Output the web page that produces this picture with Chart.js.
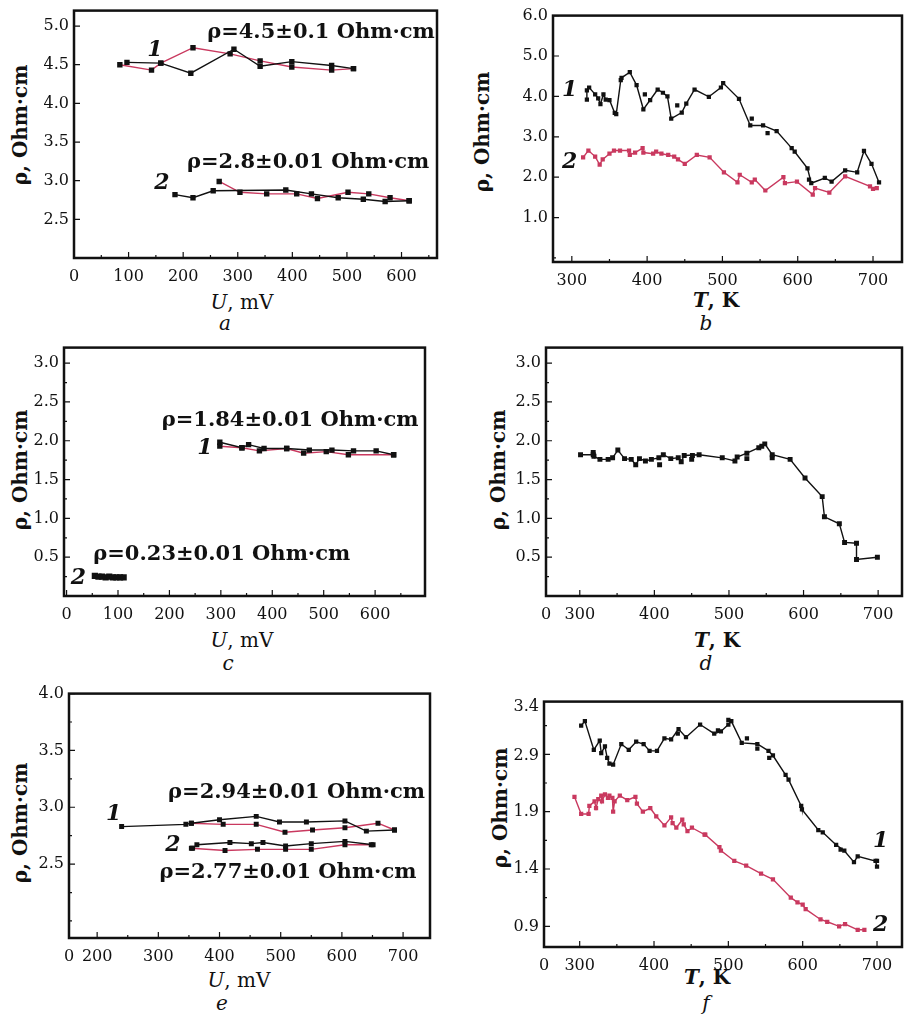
<!DOCTYPE html>
<html>
<head>
<meta charset="utf-8">
<script src="https://cdn.jsdelivr.net/npm/chart.js@4.4.1/dist/chart.umd.min.js"></script>
<style>
  body { margin: 0; width: 904px; height: 1021px; position: relative; overflow: hidden; background: #fff; color: #111; font-family: "DejaVu Serif", serif; }
  canvas { position: absolute; }
  .t { position: absolute; white-space: nowrap; transform: translate(-50%, -50%); font-size: 20px; }
  .yt { transform: translate(-50%, -50%) rotate(-90deg); font-weight: bold; font-size: 20px; }
  .xt-t { font-weight: bold; }
  .lt { font-style: italic; }
</style>
</head>
<body>
<div class="t yt" style="left:20px;top:125px">ρ, Ohm·cm</div>
<div class="t yt" style="left:482px;top:132px">ρ, Ohm·cm</div>
<div class="t yt" style="left:20px;top:470px">ρ, Ohm·cm</div>
<div class="t yt" style="left:498px;top:470px">ρ, Ohm·cm</div>
<div class="t yt" style="left:20px;top:823px">ρ, Ohm·cm</div>
<div class="t yt" style="left:500px;top:808px">ρ, Ohm·cm</div>

<div class="t" style="left:242px;top:302px"><i>U</i>, mV</div>
<div class="t xt-t" style="left:716px;top:300px"><i>T</i>, K</div>
<div class="t" style="left:242px;top:640px"><i>U</i>, mV</div>
<div class="t xt-t" style="left:717px;top:640px"><i>T</i>, K</div>
<div class="t" style="left:239px;top:980px"><i>U</i>, mV</div>
<div class="t xt-t" style="left:707px;top:977px"><i>T</i>, K</div>

<div class="t lt" style="left:225px;top:323px">a</div>
<div class="t lt" style="left:706px;top:323px">b</div>
<div class="t lt" style="left:228px;top:663px">c</div>
<div class="t lt" style="left:706px;top:663px">d</div>
<div class="t lt" style="left:222px;top:1003px">e</div>
<div class="t lt" style="left:706px;top:1003px">f</div>

<script>
const RED = '#c9395f'
const BLACK = '#111'

// panel a: rho vs U
const aXTicks = [0, 100, 200, 300, 400, 500, 600]
const aXLabels = ['0', '100', '200', '300', '400', '500', '600']
const aYTicks = [2.5, 3.0, 3.5, 4.0, 4.5, 5.0]
const aYLabels = ['2.5', '3.0', '3.5', '4.0', '4.5', '5.0']
const aBlack1 = [[97,4.53],[159,4.52],[214,4.39],[293,4.70],[341,4.48],[399,4.54],[472,4.49],[512,4.45]]
const aRed1 = [[84,4.50],[142,4.43],[159,4.52],[218,4.72],[286,4.64],[341,4.55],[399,4.47],[472,4.43],[512,4.45]]
const aBlack2 = [[185,2.82],[218,2.78],[255,2.87],[388,2.88],[435,2.83],[484,2.78],[530,2.76],[570,2.73],[614,2.74]]
const aRed2 = [[266,2.99],[304,2.85],[353,2.83],[408,2.83],[446,2.77],[502,2.85],[540,2.83],[579,2.78],[614,2.74]]

// panel b: rho vs T
const bXTicks = [300, 400, 500, 600, 700]
const bXLabels = ['300', '400', '500', '600', '700']
const bYTicks = [1, 2, 3, 4, 5, 6]
const bYLabels = ['1.0', '2.0', '3.0', '4.0', '5.0', '6.0']
const bBlack1 = [[320,3.92],[320,4.15],[323,4.22],[331,4.05],[335,3.95],[338,3.81],[342,4.05],[345,3.92],[350,3.91],[357,3.59],[359,3.56],[365,4.40],[366,4.46],[377,4.60],[386,4.28],[395,3.68],[404,3.91],[414,4.17],[421,4.09],[427,4.00],[432,3.45],[446,3.60],[452,3.82],[463,4.17],[482,3.99],[498,4.22],[501,4.33],[522,3.94],[537,3.28],[554,3.28],[572,3.14],[592,2.72],[596,2.63],[613,2.22],[618,1.85],[636,1.98],[645,1.89],[663,2.17],[679,2.12],[688,2.65],[698,2.33],[708,1.87]]
const bBlack1Extra = [[397,4.05],[440,3.78],[539,3.45],[560,3.09],[615,1.94]]
const bRed2 = [[315,2.49],[322,2.66],[331,2.51],[337,2.31],[341,2.44],[350,2.58],[356,2.66],[364,2.66],[376,2.66],[377,2.55],[384,2.61],[394,2.72],[395,2.61],[408,2.58],[412,2.63],[419,2.58],[428,2.55],[436,2.51],[441,2.44],[450,2.33],[466,2.55],[483,2.49],[502,2.12],[520,1.87],[523,2.06],[539,1.87],[543,1.94],[557,1.67],[581,2.00],[583,1.85],[599,1.89],[620,1.57],[623,1.73],[642,1.62],[663,2.02],[696,1.77],[700,1.71],[705,1.73]]

// panel c: rho vs U
const cXTicks = [0, 100, 200, 300, 400, 500, 600]
const cXLabels = ['0', '100', '200', '300', '400', '500', '600']
const cYTicks = [0.5, 1.0, 1.5, 2.0, 2.5, 3.0]
const cYLabels = ['0.5', '1.0', '1.5', '2.0', '2.5', '3.0']
const cBlack1 = [[298,1.98],[341,1.91],[354,1.95],[384,1.90],[428,1.90],[472,1.88],[516,1.88],[558,1.87],[602,1.87],[636,1.82]]
const cRed1 = [[298,1.93],[341,1.91],[375,1.87],[428,1.90],[461,1.84],[505,1.86],[548,1.82],[636,1.82]]
const cBlack2 = [[55,0.26],[62,0.25],[69,0.25],[76,0.24],[83,0.25],[90,0.24],[97,0.24],[104,0.24],[111,0.24]]

// panel d: rho vs T
const dXTicks = [254.7, 300, 400, 500, 600, 700]
const dXLabels = ['0', '300', '400', '500', '600', '700']
const dYTicks = [0.5, 1.0, 1.5, 2.0, 2.5, 3.0]
const dYLabels = ['0.5', '1.0', '1.5', '2.0', '2.5', '3.0']
const dLine = [[301,1.82],[318,1.82],[319,1.80],[327,1.76],[338,1.76],[344,1.78],[351,1.88],[360,1.77],[369,1.76],[375,1.69],[380,1.77],[388,1.74],[396,1.76],[406,1.78],[412,1.82],[422,1.77],[432,1.78],[436,1.73],[440,1.81],[460,1.82],[491,1.78],[508,1.74],[511,1.79],[524,1.84],[540,1.91],[544,1.93],[548,1.96],[558,1.82],[582,1.76],[602,1.52],[625,1.28],[628,1.02],[648,0.93],[655,0.69],[671,0.68],[671,0.47],[699,0.50]]
const dExtra = [[318,1.85],[407,1.69],[450,1.76],[451,1.81],[524,1.77],[558,1.78]]

// panel e: rho vs U
const eXTicks = [154, 200, 300, 400, 500, 600, 700]
const eXLabels = ['0', '200', '300', '400', '500', '600', '700']
const eYTicks = [2.5, 3.0, 3.5, 4.0]
const eYLabels = ['2.5', '3.0', '3.5', '4.0']
const eBlack1 = [[240,2.83],[345,2.85],[354,2.86],[400,2.89],[460,2.92],[498,2.87],[542,2.87],[605,2.88],[640,2.79],[686,2.80]]
const eRed1 = [[354,2.86],[406,2.85],[460,2.85],[507,2.78],[552,2.80],[605,2.82],[659,2.86],[686,2.80]]
const eBlack2 = [[356,2.64],[363,2.67],[417,2.69],[452,2.68],[471,2.69],[508,2.66],[550,2.68],[605,2.70],[651,2.67]]
const eRed2 = [[354,2.64],[409,2.62],[462,2.63],[508,2.63],[550,2.63],[605,2.67],[648,2.67]]

// panel f: rho vs T (tick labels as printed)
const fXTicks = [252, 300, 400, 500, 600, 700]
const fXLabels = ['0', '300', '400', '500', '600', '700']
const fYTicks = [0.9, 1.4, 1.9, 2.39, 2.81]
const fYLabels = ['0.9', '1.4', '1.9', '2.9', '3.4']
const fBlack1 = [[302,2.65],[307,2.69],[319,2.44],[327,2.52],[329,2.41],[334,2.47],[337,2.37],[340,2.32],[345,2.31],[356,2.49],[366,2.44],[376,2.51],[386,2.49],[394,2.43],[404,2.43],[414,2.54],[423,2.53],[433,2.62],[443,2.55],[462,2.66],[481,2.58],[490,2.60],[500,2.66],[504,2.69],[518,2.50],[539,2.49],[554,2.43],[560,2.39],[577,2.22],[581,2.18],[598,1.95],[599,1.92],[621,1.74],[627,1.72],[645,1.61],[656,1.56],[669,1.46],[674,1.51],[698,1.47],[700,1.42]]
const fBlack1Extra = [[432,2.58],[486,2.61],[500,2.70],[525,2.54],[539,2.45],[555,2.37],[651,1.57],[700,1.47]]
const fRed2 = [[293,2.03],[302,1.88],[312,1.88],[313,1.95],[320,1.99],[322,1.93],[325,2.01],[329,2.04],[330,1.99],[334,2.05],[338,2.02],[340,2.04],[344,2.02],[345,1.90],[347,1.99],[354,2.04],[364,2.00],[375,2.03],[377,1.97],[385,1.90],[395,1.93],[403,1.86],[414,1.78],[423,1.85],[425,1.80],[430,1.76],[438,1.83],[440,1.79],[445,1.73],[451,1.76],[468,1.70],[469,1.70],[488,1.59],[490,1.56],[508,1.47],[524,1.43],[544,1.36],[560,1.31],[584,1.15],[593,1.11],[600,1.09],[604,1.05],[624,0.96],[633,0.94],[649,0.90],[657,0.92],[674,0.87],[683,0.87]]

const NOTE_FONT = 'bold 21px "DejaVu Serif"'
const NUM_FONT = 'italic bold 22px "DejaVu Serif"'

const pts = arr => arr.map(([x, y]) => ({ x, y }))

function line(data, color, ptColor, r) {
  return {
    data: pts(data), showLine: true, borderColor: color, borderWidth: 1.4,
    pointStyle: 'rect', pointRadius: r, pointHoverRadius: r,
    pointBackgroundColor: ptColor, pointBorderWidth: 0
  }
}

function dots(data, ptColor, r) {
  return {
    data: pts(data), showLine: false, borderColor: ptColor,
    pointStyle: 'rect', pointRadius: r, pointHoverRadius: r,
    pointBackgroundColor: ptColor, pointBorderWidth: 0
  }
}

const framePlugin = {
  id: 'frame',
  afterDatasetsDraw(chart, args, opts) {
    const { ctx, chartArea: { left, top, right, bottom }, scales: { x, y } } = chart
    ctx.save()
    ctx.strokeStyle = BLACK
    ctx.lineWidth = 1.2
    const marks = (scale, base, step, draw) => {
      const k0 = Math.ceil((scale.min - base) / step)
      const k1 = Math.floor((scale.max - base) / step)
      for (let k = k0; k <= k1; k++) {
        const v = base + k * step
        const major = scale.ticks.some(t => Math.abs(t.value - v) < step / 4)
        draw(scale.getPixelForValue(v), major ? 6 : 3)
      }
    }
    ctx.beginPath()
    marks(x, opts.xBase, opts.xStep, (p, l) => { ctx.moveTo(p, bottom); ctx.lineTo(p, bottom - l) })
    marks(y, opts.yBase, opts.yStep, (p, l) => { ctx.moveTo(left, p); ctx.lineTo(left + l, p) })
    ctx.stroke()
    ctx.lineWidth = 2.5
    ctx.strokeRect(left, top, right - left, bottom - top)
    ctx.restore()
  }
}

const notesPlugin = {
  id: 'notes',
  afterDatasetsDraw(chart, args, opts) {
    const { ctx, scales: { x, y } } = chart
    ctx.save()
    ctx.fillStyle = BLACK
    ctx.textBaseline = 'middle'
    for (const n of opts.items || []) {
      ctx.font = n.font
      ctx.textAlign = n.align || 'left'
      ctx.fillText(n.text, x.getPixelForValue(n.x), y.getPixelForValue(n.y))
    }
    ctx.restore()
  }
}

function axis(min, max, ticks, labels, dir) {
  return {
    type: 'linear', min, max,
    afterBuildTicks: s => { s.ticks = ticks.map(v => ({ value: v })) },
    afterFit: s => { if (dir === 'x') s.height = 32; else s.width = 64 },
    grid: { display: false, drawTicks: false },
    border: { display: false },
    ticks: {
      autoSkip: false, maxRotation: 0, padding: dir === 'x' ? 9 : 5, color: BLACK,
      font: { family: 'DejaVu Serif', size: 16 },
      callback: (v, i) => labels[i]
    }
  }
}

function panel(box, cfg) {
  const [L, T, R, B] = box
  const W = R - L + 66, H = B - T + 46
  const canvas = document.createElement('canvas')
  canvas.width = W
  canvas.height = H
  canvas.style.left = (L - 64) + 'px'
  canvas.style.top = (T - 14) + 'px'
  canvas.style.width = W + 'px'
  canvas.style.height = H + 'px'
  document.body.appendChild(canvas)
  return new Chart(canvas, {
    type: 'scatter',
    data: { datasets: cfg.datasets },
    options: {
      responsive: false, animation: false, events: [],
      layout: { padding: { left: 0, top: 14, right: 2, bottom: 0 }, autoPadding: false },
      plugins: {
        legend: { display: false }, tooltip: { enabled: false },
        frame: cfg.frame,
        notes: { items: cfg.notes || [] }
      },
      scales: {
        x: axis(cfg.x[0], cfg.x[1], cfg.xTicks, cfg.xLabels, 'x'),
        y: axis(cfg.y[0], cfg.y[1], cfg.yTicks, cfg.yLabels, 'y')
      }
    },
    plugins: [framePlugin, notesPlugin]
  })
}

panel([74, 10, 437, 258], {
  x: [0, 665], y: [2.0, 5.2], xTicks: aXTicks, xLabels: aXLabels, yTicks: aYTicks, yLabels: aYLabels,
  frame: { xBase: 0, xStep: 50, yBase: 2.5, yStep: 0.5 },
  datasets: [line(aBlack1, BLACK, BLACK, 3.8), line(aBlack2, BLACK, BLACK, 3.8), line(aRed1, RED, BLACK, 3.8), line(aRed2, RED, BLACK, 3.8)],
  notes: [
    { x: 244, y: 4.91, text: 'ρ=4.5±0.1 Ohm·cm', font: NOTE_FONT },
    { x: 148, y: 4.69, text: '1', font: NUM_FONT, align: 'center' },
    { x: 207, y: 3.24, text: 'ρ=2.8±0.01 Ohm·cm', font: NOTE_FONT },
    { x: 161, y: 2.97, text: '2', font: NUM_FONT, align: 'center' }
  ]
})

panel([553, 15, 902, 262], {
  x: [275, 738.5], y: [-0.1, 6.0], xTicks: bXTicks, xLabels: bXLabels, yTicks: bYTicks, yLabels: bYLabels,
  frame: { xBase: 300, xStep: 50, yBase: 0, yStep: 1 },
  datasets: [line(bBlack1, BLACK, BLACK, 3), dots(bBlack1Extra, BLACK, 3), line(bRed2, RED, RED, 3)],
  notes: [
    { x: 297, y: 4.14, text: '1', font: NUM_FONT, align: 'center' },
    { x: 297, y: 2.36, text: '2', font: NUM_FONT, align: 'center' }
  ]
})

panel([64, 347, 425, 596], {
  x: [-5, 697], y: [0, 3.2], xTicks: cXTicks, xLabels: cXLabels, yTicks: cYTicks, yLabels: cYLabels,
  frame: { xBase: 0, xStep: 50, yBase: 0.5, yStep: 0.25 },
  datasets: [line(cBlack1, BLACK, BLACK, 3.8), line(cBlack2, BLACK, BLACK, 4.4), line(cRed1, RED, BLACK, 3.8)],
  notes: [
    { x: 185, y: 2.26, text: 'ρ=1.84±0.01 Ohm·cm', font: NOTE_FONT },
    { x: 269, y: 1.90, text: '1', font: NUM_FONT, align: 'center' },
    { x: 52, y: 0.53, text: 'ρ=0.23±0.01 Ohm·cm', font: NOTE_FONT },
    { x: 23, y: 0.227, text: '2', font: NUM_FONT, align: 'center' }
  ]
})

panel([546, 347, 902, 596], {
  x: [254.7, 732], y: [0, 3.2], xTicks: dXTicks, xLabels: dXLabels, yTicks: dYTicks, yLabels: dYLabels,
  frame: { xBase: 300, xStep: 50, yBase: 0.5, yStep: 0.25 },
  datasets: [line(dLine, BLACK, BLACK, 3.5), dots(dExtra, BLACK, 3.5)]
})

panel([69, 693, 430, 938], {
  x: [154, 744], y: [1.85, 4.0], xTicks: eXTicks, xLabels: eXLabels, yTicks: eYTicks, yLabels: eYLabels,
  frame: { xBase: 200, xStep: 50, yBase: 2.5, yStep: 0.25 },
  datasets: [line(eBlack1, BLACK, BLACK, 3.5), line(eBlack2, BLACK, BLACK, 3.5), line(eRed1, RED, BLACK, 3.5), line(eRed2, RED, BLACK, 3.5)],
  notes: [
    { x: 316, y: 3.13, text: 'ρ=2.94±0.01 Ohm·cm', font: NOTE_FONT },
    { x: 227, y: 2.94, text: '1', font: NUM_FONT, align: 'center' },
    { x: 324, y: 2.67, text: '2', font: NUM_FONT, align: 'center' },
    { x: 302, y: 2.43, text: 'ρ=2.77±0.01 Ohm·cm', font: NOTE_FONT }
  ]
})

panel([544, 701, 902, 947], {
  x: [252, 733.6], y: [0.72, 2.86], xTicks: fXTicks, xLabels: fXLabels, yTicks: fYTicks, yLabels: fYLabels,
  frame: { xBase: 300, xStep: 50, yBase: 0.9, yStep: 0.25 },
  datasets: [line(fBlack1, BLACK, BLACK, 3), dots(fBlack1Extra, BLACK, 3), line(fRed2, RED, RED, 3)],
  notes: [
    { x: 705, y: 1.64, text: '1', font: NUM_FONT, align: 'center' },
    { x: 705, y: 0.906, text: '2', font: NUM_FONT, align: 'center' }
  ]
})
</script>
</body>
</html>
